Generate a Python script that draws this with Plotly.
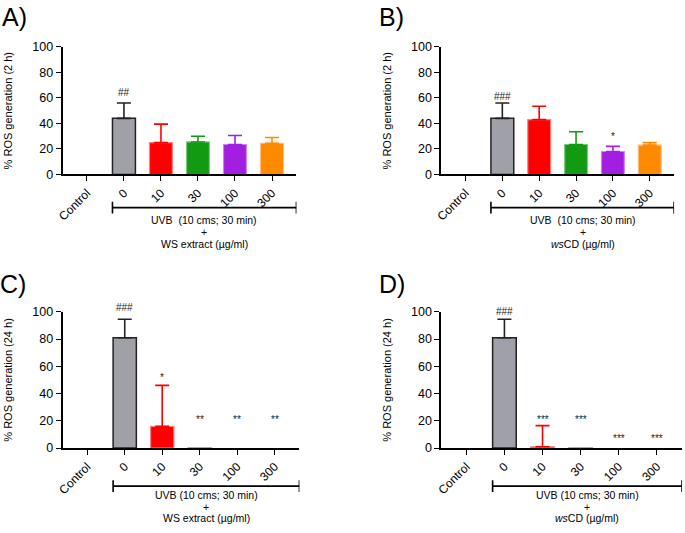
import plotly.graph_objects as go

categories = ["Control", "0", "10", "30", "100", "300"]
colors = ["#a0a0a8", "#a0a0a8", "#ff0000", "#139a13", "#a21ee0", "#ff8a00"]
edge_colors = ["#000000", "#222222", "#ff8080", "#80c880", "#cc88ee", "#ffbb77"]
err_colors = ["#000000", "#222222", "#ff0000", "#139a13", "#a21ee0", "#ff8a00"]

# Panel A: 2 h, WS extract
a_mean = [0, 44, 25, 25.5, 23.5, 24.5]
a_err = [0, 12, 14.5, 4.5, 7, 4.5]
a_sig = ["", "##", "", "", "", ""]
a_sig_y = [0, 64, 0, 0, 0, 0]

# Panel B: 2 h, wsCD
b_mean = [0, 44, 43, 23.5, 18, 23]
b_err = [0, 12, 10.5, 10, 4, 2]
b_sig = ["", "###", "", "", "*", ""]
b_sig_y = [0, 61, 0, 0, 30, 0]

# Panel C: 24 h, WS extract
c_mean = [0, 81, 16, 0.4, 0, 0]
c_err = [0, 13.5, 30, 0, 0, 0]
c_sig = ["", "###", "*", "**", "**", "**"]
c_sig_y = [0, 103, 52, 21, 21, 21]

# Panel D: 24 h, wsCD
d_mean = [0, 81, 1, 0.4, 0, 0]
d_err = [0, 13.5, 15.5, 0, 0, 0]
d_sig = ["", "###", "***", "***", "***", "***"]
d_sig_y = [0, 100, 21, 21, 7, 7]

panel_letters = ["A)", "B)", "C)", "D)"]
y_titles = ["% ROS generation (2 h)", "% ROS generation (2 h)",
            "% ROS generation (24 h)", "% ROS generation (24 h)"]
treat_line1 = ["UVB  (10 cms; 30 min)", "UVB  (10 cms; 30 min)",
               "UVB (10 cms; 30 min)", "UVB (10 cms; 30 min)"]
treat_line3 = ["WS extract (µg/ml)", "<i>ws</i>CD (µg/ml)",
               "WS extract (µg/ml)", "<i>ws</i>CD (µg/ml)"]

W, H = 685, 533
FONT = "Liberation Sans, Arial, sans-serif"

# panel geometry in pixels: (x_left, x_right, y_zero, y_hundred)
panels_px = [(57, 293, 172, 41), (439, 674, 172, 41),
             (57, 296, 453, 313), (439, 682, 453, 313)]
bracket_y_px = [206, 206, 492, 492]
text_y_px = [(219, 231, 243), (219, 231, 243), (501, 513, 525), (501, 513, 525)]
letter_pos_px = [(-6, -6), (374, -6), (-8, 268), (374, 268)]

data = [(a_mean, a_err, a_sig, a_sig_y), (b_mean, b_err, b_sig, b_sig_y),
        (c_mean, c_err, c_sig, c_sig_y), (d_mean, d_err, d_sig, d_sig_y)]

fig = go.Figure()
annotations = []
shapes = []
XR = [-0.66, 5.66]

for p, (mean, err, sig, sig_y) in enumerate(data):
    xa = "x" if p == 0 else f"x{p+1}"
    ya = "y" if p == 0 else f"y{p+1}"
    for i, cat in enumerate(categories):
        lw = 0 if mean[i] == 0 else (1.5 if i < 2 else 1.2)
        fig.add_trace(go.Bar(
            x=[cat], y=[mean[i]], xaxis=xa, yaxis=ya, width=0.62,
            marker=dict(color=colors[i], line=dict(color=edge_colors[i], width=lw)),
            error_y=dict(type="data", array=[err[i]], arrayminus=[0], symmetric=False,
                         visible=err[i] > 0, color=err_colors[i], thickness=1.6, width=7),
            showlegend=False, hoverinfo="y",
        ))
        if sig[i]:
            annotations.append(dict(x=i, y=sig_y[i] / 100, xref=xa, yref=f"{ya} domain",
                                    text=sig[i], showarrow=False,
                                    font=dict(size=10, color="#222222", family=FONT),
                                    yanchor="middle"))
    xl, xr, y0, y100 = panels_px[p]
    suffix = "" if p == 0 else str(p + 1)
    fig.update_layout(**{
        f"xaxis{suffix}": dict(domain=[xl / W, xr / W], anchor=ya, type="category",
                               categoryarray=categories, range=XR, showgrid=False, zeroline=False,
                               showline=True, linecolor="black", linewidth=1.6,
                               ticks="outside", ticklen=5, tickwidth=1.4, tickcolor="black",
                               tickangle=-45, tickfont=dict(size=12, color="black", family=FONT)),
        f"yaxis{suffix}": dict(domain=[(H - y0) / H, (H - y100) / H], anchor=xa, range=[0, 100],
                               tickvals=[0, 20, 40, 60, 80, 100], showgrid=False, zeroline=False,
                               showline=True, linecolor="black", linewidth=1.6,
                               ticks="outside", ticklen=5, tickwidth=1.4, tickcolor="black",
                               tickfont=dict(size=12.5, color="black", family=FONT),
                               title=dict(text=y_titles[p], standoff=17,
                                          font=dict(size=11, color="black", family=FONT))),
    })
    # bracket below x-axis
    by = 1 - bracket_y_px[p] / H
    bx0, bx1 = 1 - 0.31, XR[1]
    shapes.append(dict(type="line", xref=xa, yref="paper", x0=bx0, x1=bx1, y0=by, y1=by,
                       line=dict(color="black", width=1.6)))
    for bx in (bx0, bx1):
        shapes.append(dict(type="line", xref=xa, yref="paper", x0=bx, x1=bx,
                           y0=by - 6 / H, y1=by + 6 / H, line=dict(color="black", width=1.6)))
    xmid = (bx0 + bx1) / 2
    for txt, ty in zip([treat_line1[p], "+", treat_line3[p]], text_y_px[p]):
        annotations.append(dict(x=xmid, y=1 - ty / H, xref=xa, yref="paper", text=txt,
                                showarrow=False, yanchor="middle", borderpad=0,
                                font=dict(size=10.5, color="black", family=FONT)))
    lx, ly = letter_pos_px[p]
    annotations.append(dict(x=lx / W, y=1 - ly / H, xref="paper", yref="paper",
                            text=panel_letters[p], showarrow=False, xanchor="left", yanchor="top",
                            font=dict(size=25, color="black", family=FONT)))

fig.update_layout(width=W, height=H, margin=dict(l=0, r=0, t=0, b=0),
                  paper_bgcolor="white", plot_bgcolor="white", barmode="overlay",
                  annotations=annotations, shapes=shapes, showlegend=False,
                  font=dict(family=FONT, color="black"))

fig.write_html("out.html")
